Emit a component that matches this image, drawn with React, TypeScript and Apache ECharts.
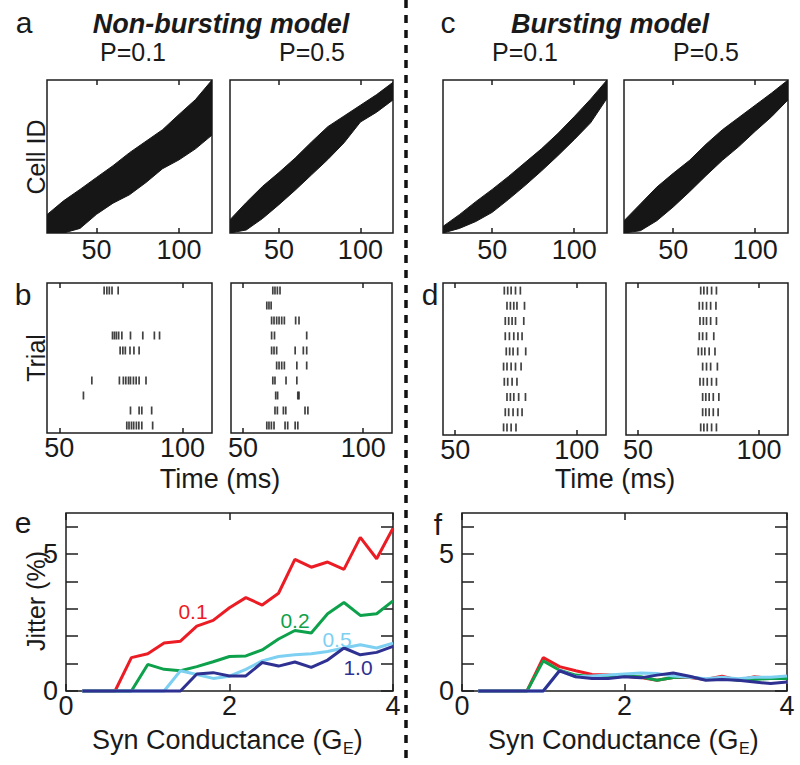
import React, { useEffect, useRef } from "react";
import * as echarts from "echarts";

// ---------------- DATA ----------------
// Panels a / c: outline of the dense spike rasters (cell ID 0-1000 vs time, ms)
const bandTimes = [20, 30, 40, 50, 60, 70, 80, 90, 100, 110, 120];
const aP01Upper = [120, 210, 285, 363, 440, 525, 600, 675, 775, 872, 1000];
const aP01Lower = [0, 0, 30, 122, 195, 250, 330, 420, 478, 550, 640];
const aP05Upper = [87, 200, 305, 395, 490, 595, 695, 765, 835, 905, 985];
const aP05Lower = [0, 20, 95, 185, 280, 380, 480, 590, 725, 790, 870];
const cP01Upper = [43, 120, 205, 285, 370, 460, 550, 650, 760, 875, 1000];
const cP01Lower = [0, 30, 75, 135, 220, 310, 405, 505, 610, 720, 880];
const cP05Upper = [80, 190, 300, 390, 475, 580, 675, 755, 835, 915, 1000];
const cP05Lower = [0, 15, 80, 170, 270, 375, 475, 565, 665, 760, 870];

// Panels b / d: spike times (ms) for trials 1..10 (top to bottom)
const bNonP01: number[][] = [
  [68.2, 69.3, 70.3, 71.4, 73.9],
  [],
  [],
  [71.6, 72.4, 73.2, 74.1, 75.4, 78.9, 83.9, 88.6, 90.7],
  [74.7, 75.8, 76.8, 78.7, 80.3, 82.4],
  [],
  [63.2, 74.4, 76.0, 77.0, 78.1, 78.9, 80.1, 81.2, 82.4, 85.2],
  [59.8],
  [78.9, 82.4, 83.5, 87.5],
  [77.4, 78.3, 79.3, 80.2, 81.3, 82.3, 83.5, 87.9],
];
const bNonP05: number[][] = [
  [62.4, 63.3, 64.3, 65.4],
  [59.9, 60.8, 61.7],
  [61.9, 62.9, 64.0, 65.0, 66.1, 67.2, 71.9, 73.3],
  [61.9, 63.1, 76.5],
  [61.9, 62.9, 64.0, 71.7, 75.1, 76.5],
  [64.0, 65.0, 66.1, 67.2, 72.4, 76.5],
  [62.4, 63.3, 67.9, 72.4],
  [63.6, 64.4, 72.8, 73.3],
  [63.3, 64.3, 66.8, 67.8, 75.8, 77.0],
  [59.9, 60.8, 61.8, 62.9, 67.5, 68.6, 71.7, 72.8],
];
const dBurstP01: number[][] = [
  [70.2, 71.6, 73.0, 74.8, 76.8],
  [71.3, 72.7, 74.1, 75.4, 78.5],
  [70.6, 72.0, 73.4, 74.8, 78.2],
  [70.6, 72.3, 74.1, 75.8, 77.5],
  [71.0, 72.4, 73.8, 75.7, 79.0],
  [69.9, 71.3, 73.0, 74.8, 77.1],
  [70.2, 71.6, 73.4, 75.4],
  [71.3, 72.7, 74.1, 76.1, 78.9],
  [70.6, 72.0, 73.8, 75.7, 77.5],
  [69.9, 71.3, 73.0, 75.0],
];
const dBurstP05: number[][] = [
  [75.9, 77.2, 78.6, 80.4, 82.4],
  [75.3, 76.7, 78.3, 80.0, 82.2],
  [75.6, 77.0, 78.3, 80.0, 82.4],
  [75.3, 76.7, 78.3, 81.3],
  [74.9, 76.3, 77.6, 79.4, 81.8],
  [76.7, 78.3, 80.0, 82.8],
  [75.6, 77.0, 78.6, 80.4, 82.4],
  [76.7, 78.0, 79.4, 81.1, 83.4],
  [76.7, 78.0, 79.4, 81.1, 83.1],
  [75.9, 77.2, 78.6, 80.4, 82.4],
];

// Panels e / f: jitter (%) vs synaptic conductance (G_E)
const conductance = [0.2, 0.4, 0.6, 0.8, 1.0, 1.2, 1.4, 1.6, 1.8, 2.0, 2.2, 2.4, 2.6, 2.8, 3.0, 3.2, 3.4, 3.6, 3.8, 4.0];
const jitterNon01 = [0, 0, 0, 1.22, 1.36, 1.75, 1.82, 2.37, 2.58, 3.04, 3.41, 3.14, 3.57, 4.81, 4.52, 4.71, 4.44, 5.61, 4.83, 5.94];
const jitterNon02 = [0, 0, 0, 0, 0.97, 0.79, 0.74, 0.89, 1.07, 1.26, 1.28, 1.5, 1.9, 2.21, 2.12, 2.82, 3.23, 2.76, 2.82, 3.29];
const jitterNon05 = [0, 0, 0, 0, 0, 0, 0.74, 0.6, 0.46, 0.54, 0.79, 1.1, 1.26, 1.32, 1.36, 1.44, 1.57, 1.69, 1.57, 1.75];
const jitterNon10 = [0, 0, 0, 0, 0, 0, 0, 0.62, 0.67, 0.55, 0.55, 1.04, 0.91, 1.06, 0.86, 1.13, 1.57, 1.32, 1.41, 1.63];
const jitterBurst01 = [0, 0, 0, 0, 1.22, 0.89, 0.74, 0.6, 0.58, 0.54, 0.49, 0.39, 0.49, 0.49, 0.42, 0.54, 0.39, 0.52, 0.46, 0.54];
const jitterBurst02 = [0, 0, 0, 0, 1.1, 0.76, 0.58, 0.52, 0.52, 0.54, 0.52, 0.39, 0.49, 0.52, 0.42, 0.46, 0.39, 0.42, 0.46, 0.46];
const jitterBurst05 = [0, 0, 0, 0, 0, 0.74, 0.52, 0.55, 0.58, 0.62, 0.66, 0.64, 0.55, 0.5, 0.45, 0.5, 0.45, 0.5, 0.5, 0.55];
const jitterBurst10 = [0, 0, 0, 0, 0, 0.74, 0.52, 0.46, 0.46, 0.52, 0.48, 0.58, 0.66, 0.54, 0.39, 0.42, 0.39, 0.33, 0.27, 0.33];

const rasterTicks = [50, 100];
const jitterXTicks = [0, 2, 4];
const jitterYTicks = [0, 1, 2, 3, 4, 5, 6];
const jitterYLabels = [0, 5];
const lineNames = ["0.1", "0.2", "0.5", "1.0"];

// ---------------- LAYOUT / STYLE ----------------
const FONT = "'Liberation Sans', Arial, Helvetica, sans-serif";
const INK = "#1a1a1a";
const FRAME = "#1e1e1e";
const COLORS = ["#ec1c24", "#0ea14b", "#7dd0f2", "#2e3192"];

const layout = [
  { left: 47, top: 80, width: 165, height: 153 }, // 0 a P=0.1
  { left: 230, top: 80, width: 163, height: 153 }, // 1 a P=0.5
  { left: 443, top: 80, width: 164, height: 153 }, // 2 c P=0.1
  { left: 624, top: 80, width: 164, height: 153 }, // 3 c P=0.5
  { left: 47, top: 283, width: 165, height: 150 }, // 4 b P=0.1
  { left: 231, top: 283, width: 161, height: 150 }, // 5 b P=0.5
  { left: 443, top: 283, width: 163, height: 152 }, // 6 d P=0.1
  { left: 626, top: 283, width: 162, height: 152 }, // 7 d P=0.5
  { left: 66, top: 513, width: 327, height: 178 }, // 8 e
  { left: 462, top: 513, width: 325, height: 178 }, // 9 f
];

type AxisSpec = {
  min: number;
  max: number;
  ticks: number[];
  labels: number[];
  margin: number;
  tickLen: number;
  inverse?: boolean;
};

function tickStyle(spec: AxisSpec) {
  return spec.ticks.length
    ? { show: true, inside: true, length: spec.tickLen, customValues: spec.ticks, lineStyle: { color: FRAME, width: 1.5 } }
    : { show: false };
}

function labelStyle(spec: AxisSpec, show: boolean) {
  return show && spec.labels.length
    ? { show: true, customValues: spec.labels, margin: spec.margin, color: INK, fontSize: 27, fontFamily: FONT }
    : { show: false };
}

function axesFor(gi: number, x: AxisSpec, y: AxisSpec) {
  const base = { type: "value", gridIndex: gi, splitLine: { show: false }, axisLine: { show: false, onZero: false } };
  const xs = [
    { ...base, min: x.min, max: x.max, position: "bottom", axisTick: tickStyle(x), axisLabel: labelStyle(x, true) },
    { ...base, min: x.min, max: x.max, position: "top", axisTick: tickStyle(x), axisLabel: { show: false } },
  ];
  const ys = [
    { ...base, min: y.min, max: y.max, inverse: !!y.inverse, position: "left", axisTick: tickStyle(y), axisLabel: labelStyle(y, true) },
    { ...base, min: y.min, max: y.max, inverse: !!y.inverse, position: "right", axisTick: tickStyle(y), axisLabel: { show: false } },
  ];
  return { xs, ys };
}

function bandSeries(gi: number, upper: number[], lower: number[]) {
  return {
    type: "custom",
    xAxisIndex: 2 * gi,
    yAxisIndex: 2 * gi,
    silent: true,
    clip: true,
    data: [[70, 500]],
    renderItem: (_p: any, api: any) => {
      const pts: number[][] = [];
      bandTimes.forEach((t, i) => pts.push(api.coord([t, upper[i]])));
      for (let i = bandTimes.length - 1; i >= 0; i--) pts.push(api.coord([bandTimes[i], lower[i]]));
      return { type: "polygon", shape: { points: pts }, style: { fill: "#161616", stroke: "#161616", lineWidth: 1 } };
    },
  };
}

function spikeSeries(gi: number, rows: number[][]) {
  const data: number[][] = [];
  rows.forEach((row, r) => row.forEach((t) => data.push([t, r + 1])));
  return {
    type: "scatter",
    xAxisIndex: 2 * gi,
    yAxisIndex: 2 * gi,
    silent: true,
    symbol: "rect",
    symbolSize: [1.7, 8],
    itemStyle: { color: "#111" },
    data,
  };
}

function jitterSeries(gi: number, sets: number[][]) {
  return sets.map((vals, k) => ({
    type: "line",
    name: lineNames[k],
    xAxisIndex: 2 * gi,
    yAxisIndex: 2 * gi,
    silent: true,
    clip: false,
    symbol: "none",
    showSymbol: false,
    lineStyle: { color: COLORS[k], width: 3 },
    itemStyle: { color: COLORS[k] },
    data: conductance.map((c, i) => [c, vals[i]]),
  }));
}

function txt(text: string, x: number, y: number, fontSize: number, o: any = {}) {
  return {
    type: "text",
    x,
    y,
    rotation: o.rot || 0,
    z: 100,
    silent: true,
    style: {
      text,
      fontSize,
      fontFamily: FONT,
      fontWeight: o.bold ? "bold" : "normal",
      fontStyle: o.italic ? "italic" : "normal",
      fill: o.color || INK,
      align: o.align || "center",
      verticalAlign: "middle",
    },
  };
}

function synLabel(startX: number) {
  const mainW = 250.6;
  return [
    txt("Syn Conductance (G", startX + mainW, 739.6, 27, { align: "right" }),
    txt("E", startX + mainW + 0.5, 748.8, 16, { align: "left" }),
    txt(")", startX + mainW + 11.2, 739.6, 27, { align: "left" }),
  ];
}

function buildOption() {
  const rasterX: AxisSpec = { min: 20, max: 120, ticks: rasterTicks, labels: rasterTicks, margin: 3, tickLen: 5 };
  const trialX: AxisSpec = { min: 45, max: 112, ticks: rasterTicks, labels: rasterTicks, margin: 1, tickLen: 5 };
  const cellY: AxisSpec = { min: 0, max: 1000, ticks: [], labels: [], margin: 0, tickLen: 0 };
  const trialY: AxisSpec = { min: 0.5, max: 10.5, ticks: [], labels: [], margin: 0, tickLen: 0, inverse: true };
  const jitX: AxisSpec = { min: 0, max: 4, ticks: jitterXTicks, labels: jitterXTicks, margin: 1, tickLen: 7 };
  const jitY: AxisSpec = { min: 0, max: 6.5, ticks: jitterYTicks, labels: jitterYLabels, margin: 8, tickLen: 12 };

  const specs: [AxisSpec, AxisSpec][] = [
    [rasterX, cellY], [rasterX, cellY], [rasterX, cellY], [rasterX, cellY],
    [trialX, trialY], [trialX, trialY], [trialX, trialY], [trialX, trialY],
    [jitX, jitY], [jitX, jitY],
  ];
  const xAxis: any[] = [];
  const yAxis: any[] = [];
  specs.forEach(([x, y], gi) => {
    const { xs, ys } = axesFor(gi, x, y);
    xAxis.push(...xs);
    yAxis.push(...ys);
  });

  const series: any[] = [
    bandSeries(0, aP01Upper, aP01Lower),
    bandSeries(1, aP05Upper, aP05Lower),
    bandSeries(2, cP01Upper, cP01Lower),
    bandSeries(3, cP05Upper, cP05Lower),
    spikeSeries(4, bNonP01),
    spikeSeries(5, bNonP05),
    spikeSeries(6, dBurstP01),
    spikeSeries(7, dBurstP05),
    ...jitterSeries(8, [jitterNon01, jitterNon02, jitterNon05, jitterNon10]),
    ...jitterSeries(9, [jitterBurst01, jitterBurst02, jitterBurst05, jitterBurst10]),
  ];

  const R = Math.PI / 2;
  const graphic: any[] = [
    {
      type: "line",
      z: 90,
      silent: true,
      shape: { x1: 406, y1: 0, x2: 406, y2: 765 },
      style: { stroke: "#111", lineWidth: 3.5, lineDash: [8, 7] },
    },
    txt("a", 24, 22.6, 30),
    txt("c", 448, 22.6, 30),
    txt("Non-bursting model", 221, 24.3, 27, { bold: true, italic: true }),
    txt("Bursting model", 610, 24.3, 27, { bold: true, italic: true }),
    txt("P=0.1", 133, 52, 25),
    txt("P=0.5", 312, 52, 25),
    txt("P=0.1", 525, 52, 25),
    txt("P=0.5", 706, 52, 25),
    txt("Cell ID", 36, 157, 25, { rot: R }),
    txt("b", 23, 294.6, 30),
    txt("d", 430, 294.6, 30),
    txt("Trial", 36, 358, 25, { rot: R }),
    txt("Time (ms)", 220, 479, 27),
    txt("Time (ms)", 615, 479, 27),
    txt("e", 23, 522.6, 30),
    txt("f", 438, 524.6, 30),
    txt("Jitter (%)", 36, 601, 25, { rot: R }),
    ...synLabel(92),
    ...synLabel(488),
    txt("0.1", 193, 611, 21, { color: COLORS[0] }),
    txt("0.2", 295, 620, 21, { color: COLORS[1] }),
    txt("0.5", 337, 639, 21, { color: COLORS[2] }),
    txt("1.0", 358, 667, 21, { color: COLORS[3] }),
  ];

  return {
    animation: false,
    backgroundColor: "#ffffff",
    grid: layout.map((g) => ({ ...g, show: true, borderColor: FRAME, borderWidth: 1.5, backgroundColor: "transparent" })),
    xAxis,
    yAxis,
    series,
    graphic,
  };
}

export default function App() {
  const ref = useRef<HTMLDivElement>(null);
  useEffect(() => {
    if (!ref.current) return;
    const chart = echarts.init(ref.current, null, { renderer: "svg" });
    chart.setOption(buildOption() as any);
    return () => chart.dispose();
  }, []);
  return (
    <div
      ref={ref}
      style={{ position: "absolute", left: 0, top: 0, width: 800, height: 765, background: "#fff" }}
    />
  );
}
